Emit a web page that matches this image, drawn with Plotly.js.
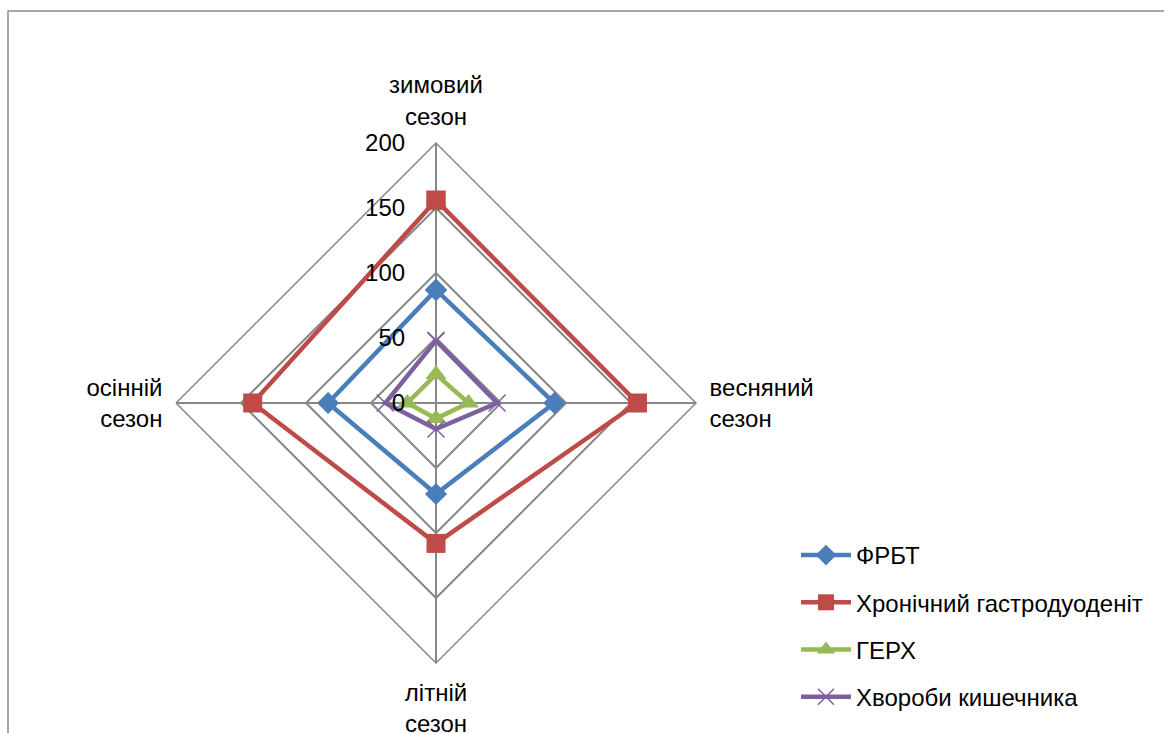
<!DOCTYPE html>
<html>
<head>
<meta charset="utf-8">
<script src="https://cdn.plot.ly/plotly-3.0.1.min.js"></script>
<style>
  html, body { margin: 0; padding: 0; background: #ffffff; }
  #chart { width: 1164px; height: 733px; }
</style>
</head>
<body>
<div id="chart"></div>
<script>
// Seasons around the radar (clockwise from the top)
const seasons = ['зимовий<br>сезон', 'весняний<br>сезон', 'літній<br>сезон', 'осінній<br>сезон'];

// Number of cases per season for each diagnosis group
const frbt = [87, 91, 70, 83];
const chronicGastroduodenitis = [156, 155, 108, 141];
const gerd = [22, 25, 12, 22];
const bowelDiseases = [48, 47, 20, 39];

const radialTicks = [0, 50, 100, 150, 200];

const FONT = 'Liberation Sans, Arial, sans-serif';
const FONT_SIZE = 24;
const GRID = '#888888';

function closeLoop(arr) { return arr.concat([arr[0]]); }

function series(name, values, color, marker, group) {
  return {
    type: 'scatterpolar',
    mode: 'lines+markers',
    name: name,
    legendgroup: group,
    r: closeLoop(values),
    theta: closeLoop(seasons),
    line: { color: color, width: 4.5 },
    marker: marker,
    cliponaxis: false,
    hoverinfo: 'name+r+theta'
  };
}

const traces = [
  series('ФРБТ', frbt, '#4A7EBB',
    { symbol: 'diamond', size: 17, color: '#4A7EBB' }, 'g1'),
  series('Хронічний гастродуоденіт', chronicGastroduodenitis, '#BE4B48',
    { symbol: 'square', size: 19, color: '#BE4B48' }, 'g2'),
  series('ГЕРХ', gerd, '#98B954',
    { symbol: 'triangle-up', size: 18, color: '#98B954' }, 'g3'),
  series('Хвороби кишечника', bowelDiseases, '#7D60A0',
    { symbol: 'x-thin', size: 17, color: '#7D60A0', line: { color: '#7D60A0', width: 1.5 } }, 'g4')
];

const W = 1164, H = 733;
const cx = 436, cy = 403, R = 260;

const layout = {
  width: W,
  height: H,
  margin: { l: 0, r: 0, t: 0, b: 0 },
  paper_bgcolor: '#ffffff',
  font: { family: FONT, size: FONT_SIZE, color: '#000000' },
  showlegend: true,
  legend: {
    x: 796 / W,
    y: 1 - 533 / H,
    xanchor: 'left',
    yanchor: 'top',
    font: { family: FONT, size: FONT_SIZE, color: '#000000' },
    tracegroupgap: 13,
    itemwidth: 50,
    bgcolor: 'rgba(0,0,0,0)'
  },
  polar: {
    domain: {
      x: [(cx - R) / W, (cx + R) / W],
      y: [(H - cy - R) / H, (H - cy + R) / H]
    },
    bgcolor: '#ffffff',
    gridshape: 'linear',
    angularaxis: {
      type: 'category',
      direction: 'clockwise',
      rotation: 90,
      showline: true,
      linecolor: GRID,
      linewidth: 1.5,
      showgrid: true,
      gridcolor: GRID,
      gridwidth: 1.5,
      ticks: 'outside',
      ticklen: 8,
      tickcolor: 'rgba(0,0,0,0)',
      tickfont: { family: FONT, size: FONT_SIZE, color: '#000000' }
    },
    radialaxis: {
      range: [0, 200],
      tickvals: radialTicks,
      angle: 90,
      tickangle: 90,
      side: 'counterclockwise',
      showline: false,
      showgrid: true,
      gridcolor: GRID,
      gridwidth: 1.5,
      ticks: 'outside',
      ticklen: 22,
      tickcolor: 'rgba(0,0,0,0)',
      tickfont: { family: FONT, size: FONT_SIZE, color: '#000000' }
    }
  },
  shapes: [
    {
      type: 'rect',
      xref: 'paper', yref: 'paper',
      x0: 8 / W, y0: -0.05, x1: 1.05, y1: 1 - 11 / H,
      line: { color: '#8c8c8c', width: 1.5 },
      fillcolor: 'rgba(0,0,0,0)',
      layer: 'below'
    }
  ]
};

Plotly.newPlot('chart', traces, layout, { displayModeBar: false, responsive: false });
</script>
</body>
</html>
